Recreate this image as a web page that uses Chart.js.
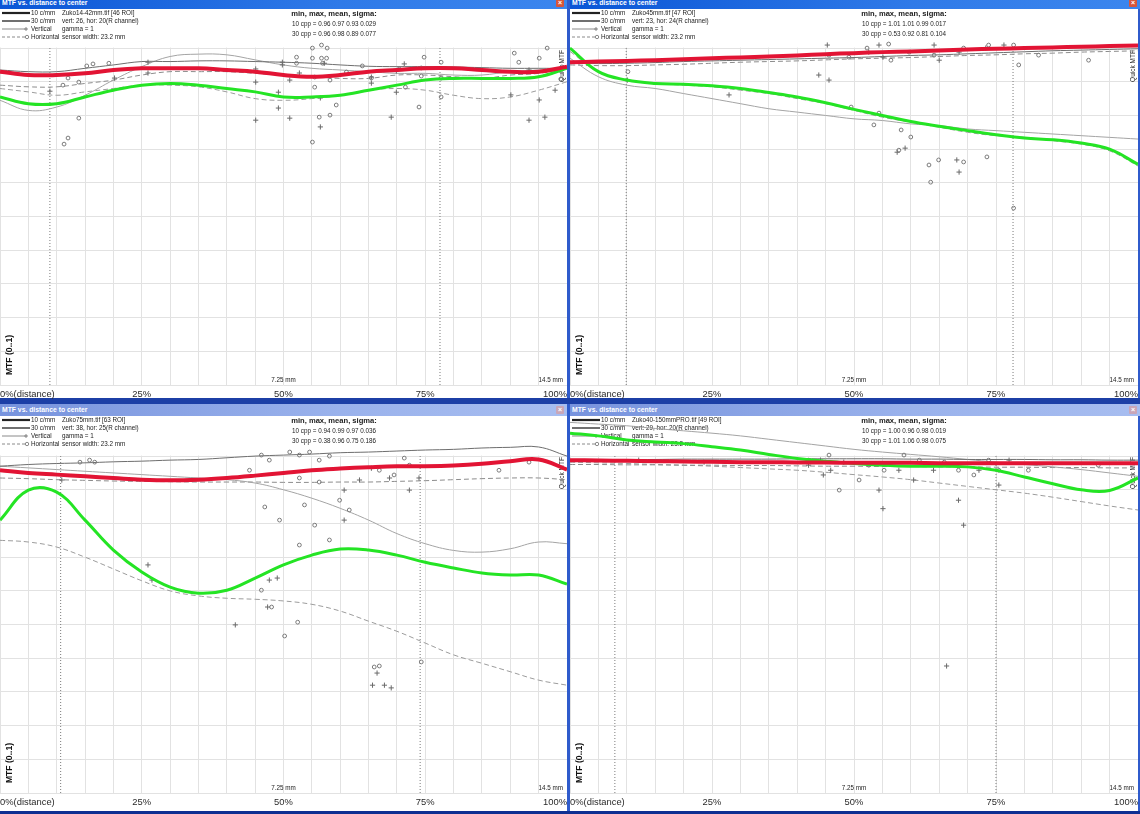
<!DOCTYPE html>
<html><head><meta charset="utf-8">
<script src="https://cdn.jsdelivr.net/npm/chart.js@4.4.1/dist/chart.umd.min.js"></script>
<style>
html,body{margin:0;padding:0}
body{width:1140px;height:814px;overflow:hidden;background:#2f5bcc;position:relative;font-family:"Liberation Sans",Arial,sans-serif}
.win{position:absolute;background:#fff;overflow:hidden}
.sep{position:absolute;background:#1c3fa6}
.tb{position:absolute;color:#fff;font:bold 6.8px "Liberation Sans",Arial,sans-serif;line-height:12px;padding-left:2px;box-sizing:border-box;white-space:nowrap}
.act{background:linear-gradient(to right,#0b56d6,#2f7ae8 60%,#3c86ee)}
.ina{background:linear-gradient(to right,#7793dd,#9ab2ec 60%,#a7bdf0)}
.cls{position:absolute;right:3px;top:2px;width:8px;height:8px;border-radius:1px;font:bold 7px Arial;line-height:8px;text-align:center;color:#fff}
.act .cls{background:#d8553a}
.ina .cls{background:#c9a6b8}
canvas{position:absolute}
</style>
</head><body>
<div class="sep" style="left:0;top:398px;width:1140px;height:6px"></div>
<div class="sep" style="left:0;top:811px;width:1140px;height:3px;background:#0f2f92"></div>
<div class="tb act" style="left:0;top:-3px;width:567px;height:12px">MTF vs. distance to center<div class="cls">×</div></div>
<div class="tb act" style="left:570px;top:-3px;width:570px;height:12px">MTF vs. distance to center<div class="cls">×</div></div>
<div class="tb ina" style="left:0;top:404px;width:567px;height:12px">MTF vs. distance to center<div class="cls">×</div></div>
<div class="tb ina" style="left:570px;top:404px;width:570px;height:12px">MTF vs. distance to center<div class="cls">×</div></div>
<div class="win" style="left:0;top:9px;width:567px;height:389px"></div>
<div class="win" style="left:570px;top:9px;width:568px;height:389px"></div>
<div class="win" style="left:0;top:416px;width:567px;height:395px"></div>
<div class="win" style="left:570px;top:416px;width:568px;height:395px"></div>
<canvas id="c1" width="567" height="390" style="left:0;top:9px"></canvas>
<canvas id="c2" width="568" height="390" style="left:570px;top:9px"></canvas>
<canvas id="c3" width="567" height="391" style="left:0;top:416px"></canvas>
<canvas id="c4" width="568" height="391" style="left:570px;top:416px"></canvas>
<script>
// ---------- shared axis data ----------
const distPct = [0,5,10,15,20,25,30,35,40,45,50,55,60,65,70,75,80,85,90,95,100];
const tickPct = [0,25,50,75,100];
const tickText = ['0%(distance)','25%','50%','75%','100%'];
const legendLabels = ['10 c/mm','30 c/mm','Vertical','Horizontal'];
const statsTitle = 'min, max, mean, sigma:';
const yLabel = 'MTF (0..1)';
const sideLabel = 'Quick MTF';
const mmLabels = ['7.25 mm','14.5 mm'];
const mmPct = [50,100];

// ---------- panel 1 : Zuko14-42mm ----------
const p1Info = ['Zuko14-42mm.tif [46 ROI]','vert: 26, hor: 20(R channel)','gamma = 1','sensor width: 23.2 mm'];
const p1Stats = ['10 cpp = 0.96 0.97 0.93 0.029','30 cpp = 0.96 0.98 0.89 0.077'];
const p1Mean10 = [.93,.92,.92,.925,.935,.94,.94,.94,.935,.93,.92,.915,.92,.93,.935,.94,.94,.935,.93,.93,.945];
const p1Mean30 = [.855,.835,.835,.855,.875,.89,.895,.89,.88,.87,.855,.855,.86,.875,.89,.905,.91,.91,.91,.915,.94];
const p1Vert10 = [.935,.93,.93,.94,.95,.96,.96,.962,.962,.96,.958,.955,.95,.946,.945,.945,.944,.942,.94,.94,.94];
const p1Vert30 = [.845,.815,.825,.86,.905,.945,.975,.982,.98,.965,.95,.94,.935,.93,.925,.925,.92,.92,.93,.935,.94];
const p1Horz10 = [.89,.885,.885,.895,.905,.92,.93,.93,.93,.925,.92,.915,.91,.91,.92,.92,.915,.91,.92,.925,.94];
const p1Horz30 = [.88,.87,.86,.87,.88,.89,.89,.885,.87,.85,.845,.85,.86,.875,.88,.875,.86,.85,.855,.875,.90];
const p1Edges = [8.8,77.6];
const p1VertPts = [[8.8,.872],[20.2,.911],[26.1,.958],[26.1,.926],[45.1,.938],[45.1,.899],[45.1,.786],[49.1,.869],[49.1,.822],[49.8,.958],[49.8,.95],[51.1,.905],[51.1,.792],[57.2,.955],[71.3,.953],[69.9,.932],[69.9,.869],[69.0,.795],[56.5,.852],[56.5,.766],[65.5,.914],[65.5,.896],[52.8,.926],[93.3,.935],[95.1,.846],[93.3,.786],[97.9,.875],[90.1,.861],[96.1,.795]];
const p1HorzPts = [[11.1,.89],[12.0,.911],[13.9,.899],[15.3,.947],[16.4,.953],[19.2,.955],[13.9,.792],[12.0,.733],[11.3,.715],[52.3,.973],[52.3,.955],[55.1,1.0],[56.7,1.009],[57.7,1.0],[55.1,.97],[56.7,.97],[57.6,.97],[56.9,.955],[55.5,.914],[55.5,.884],[56.3,.795],[58.2,.801],[55.1,.721],[59.3,.831],[58.2,.905],[63.9,.947],[61.1,.929],[65.5,.911],[70.4,.938],[71.5,.884],[73.9,.825],[74.3,.941],[74.8,.973],[74.3,.917],[77.8,.958],[77.8,.911],[77.8,.855],[98.9,.908],[99.1,.944],[90.7,.985],[95.1,.97],[96.5,1.0],[91.5,.958]];

// ---------- panel 2 : Zuko45mm ----------
const p2Info = ['Zuko45mm.tif [47 ROI]','vert: 23, hor: 24(R channel)','gamma = 1','sensor width: 23.2 mm'];
const p2Stats = ['10 cpp = 1.01 1.01 0.99 0.017','30 cpp = 0.53 0.92 0.81 0.104'];
const p2Mean10 = [.958,.96,.962,.964,.967,.97,.972,.975,.978,.982,.985,.988,.99,.993,.996,.998,1.0,1.002,1.004,1.006,1.008];
const p2Mean30 = [1.0,.93,.905,.895,.893,.888,.88,.868,.855,.838,.818,.80,.782,.768,.755,.743,.733,.728,.718,.70,.655];
const p2Vert10 = [.955,.954,.955,.957,.96,.962,.964,.966,.968,.97,.972,.975,.978,.98,.983,.986,.989,.992,.994,.996,.998];
const p2Vert30 = [.97,.915,.89,.88,.865,.85,.835,.82,.81,.80,.79,.785,.775,.77,.76,.755,.75,.745,.74,.735,.73];
const p2Horz10 = [.95,.948,.948,.95,.952,.955,.958,.96,.962,.965,.968,.97,.972,.975,.978,.98,.983,.985,.988,.99,.992];
const p2Horz30 = [.99,.93,.905,.895,.89,.885,.875,.865,.85,.835,.815,.795,.78,.765,.75,.74,.735,.725,.715,.695,.65];
const p2Edges = [9.9,78.0];
const p2VertPts = [[10.1,.905],[28.0,.861],[43.8,.92],[45.3,1.009],[45.6,.905],[52.6,.988],[54.4,1.009],[55.1,.973],[64.1,1.009],[65.0,.964],[68.5,.988],[73.2,1.0],[76.4,1.009],[59.0,.703],[57.6,.691],[68.5,.632],[68.1,.668]];
const p2HorzPts = [[45.6,.979],[49.1,.973],[52.3,1.0],[56.1,1.012],[56.5,.964],[59.7,.988],[64.1,.979],[69.3,1.0],[73.7,1.009],[78.1,1.009],[79.0,.95],[49.5,.825],[54.4,.807],[53.5,.772],[58.3,.757],[60.0,.736],[57.9,.697],[63.2,.653],[63.5,.602],[64.9,.668],[69.3,.662],[73.4,.677],[78.1,.525],[82.5,.979],[91.3,.964],[10.2,.93]];

// ---------- panel 3 : Zuko75mm ----------
const p3Info = ['Zuko75mm.tif [63 ROI]','vert: 38, hor: 25(R channel)','gamma = 1','sensor width: 23.2 mm'];
const p3Stats = ['10 cpp = 0.94 0.99 0.97 0.036','30 cpp = 0.38 0.96 0.75 0.186'];
const p3Mean10 = [.958,.95,.945,.94,.935,.93,.928,.93,.935,.942,.95,.958,.963,.967,.97,.97,.972,.977,.985,.99,.96];
const p3Mean30 = [.81,.899,.893,.81,.721,.656,.611,.593,.602,.638,.677,.706,.724,.721,.706,.685,.668,.653,.647,.647,.62];
const p3Vert10 = [.97,.975,.978,.98,.983,.985,.988,.99,.995,1.0,1.003,1.006,1.01,1.012,1.015,1.018,1.02,1.024,1.026,1.027,1.0];
const p3Vert30 = [.97,.965,.96,.955,.95,.945,.94,.935,.93,.92,.90,.875,.845,.81,.77,.74,.72,.715,.725,.745,.74];
const p3Horz10 = [.935,.933,.93,.928,.926,.925,.924,.923,.923,.923,.922,.922,.923,.923,.925,.927,.93,.933,.935,.935,.93];
const p3Horz30 = [.75,.745,.73,.70,.665,.63,.60,.585,.578,.575,.57,.56,.54,.51,.48,.445,.41,.385,.36,.335,.32];
const p3Edges = [10.7,74.1];
const p3VertPts = [[10.9,.929],[26.1,.677],[26.8,.632],[41.5,.499],[47.2,.552],[47.5,.632],[48.9,.638],[60.7,.81],[67.8,.32],[65.7,.32],[66.5,.356],[69.0,.312],[63.4,.929],[65.5,.964],[68.7,.935],[72.2,.899],[73.9,.935],[60.7,.899]];
const p3HorzPts = [[14.1,.982],[15.8,.988],[16.7,.982],[44.0,.958],[46.1,1.003],[47.5,.988],[51.1,1.012],[52.8,1.003],[54.6,1.012],[56.3,.988],[58.1,1.0],[52.8,.935],[56.3,.923],[59.9,.869],[61.6,.84],[53.7,.855],[49.3,.81],[58.1,.751],[52.8,.736],[46.7,.849],[55.5,.795],[66.9,.958],[69.5,.944],[71.3,.994],[72.2,.973],[46.1,.602],[52.5,.507],[50.2,.466],[47.9,.552],[66.0,.374],[66.9,.377],[74.3,.389],[88.0,.958],[93.3,.982]];

// ---------- panel 4 : Zuko40-150mmPRO ----------
const p4Info = ['Zuko40-150mmPRO.tif [49 ROI]','vert: 29, hor: 20(R channel)','gamma = 1','sensor width: 23.2 mm'];
const p4Stats = ['10 cpp = 1.00 0.96 0.98 0.019','30 cpp = 1.01 1.06 0.98 0.075'];
const p4Mean10 = [.988,.987,.986,.985,.984,.983,.982,.982,.981,.981,.98,.98,.98,.979,.979,.979,.979,.979,.979,.979,.979];
const p4Mean30 = [1.068,1.06,1.048,1.042,1.037,1.028,1.018,1.005,.993,.985,.978,.973,.97,.97,.968,.958,.938,.918,.90,.898,.935];
const p4Vert10 = [.99,.99,.99,.99,.991,.991,.991,.991,.992,.992,.992,.992,.991,.991,.99,.99,.99,.989,.989,.988,.988];
const p4Vert30 = [1.10,1.095,1.09,1.082,1.075,1.068,1.06,1.05,1.04,1.03,1.02,1.012,1.005,.998,.99,.982,.975,.968,.96,.95,.94];
const p4Horz10 = [.975,.975,.974,.974,.973,.973,.972,.972,.971,.97,.97,.969,.969,.968,.968,.967,.967,.966,.966,.965,.965];
const p4Horz30 = [.982,.98,.978,.975,.973,.97,.966,.962,.958,.952,.945,.938,.93,.92,.91,.9,.89,.878,.865,.852,.84];
const p4Edges = [7.9,75.0];
const p4VertPts = [[12.1,.988],[23.6,.982],[42.0,.973],[44.1,.988],[44.6,.944],[45.9,.958],[48.2,.982],[55.1,.844],[54.4,.899],[57.9,.958],[60.5,.929],[64.0,.958],[66.3,.377],[68.4,.869],[69.3,.795],[72.0,.958],[75.5,.914],[77.3,.988]];
const p4HorzPts = [[42.0,.988],[45.6,1.003],[52.6,.973],[55.3,.958],[58.8,1.003],[61.5,.988],[65.9,.982],[68.4,.958],[71.1,.944],[73.7,.988],[75.5,.958],[47.4,.899],[50.9,.929],[80.7,.958],[93.0,.973]];

// ---------- rendering ----------
const FAM = '"Liberation Sans", Arial, sans-serif';
const RED = 'rgb(226,20,52)', GREEN = 'rgb(36,228,36)';

const extras = {
  id:'extras',
  beforeDatasetsDraw(chart, args, o){
    const {ctx, chartArea:a, scales:{x,y}} = chart;
    ctx.save();
    ctx.fillStyle = '#fff';
    ctx.fillRect(a.left, a.top, a.right-a.left, y.getPixelForValue(1.0)-a.top-0.5);
    const rows = [4,12,20,28];
    ctx.strokeStyle = '#222';
    ctx.lineWidth = 2.2; ctx.beginPath(); ctx.moveTo(2,rows[0]); ctx.lineTo(30,rows[0]); ctx.stroke();
    ctx.lineWidth = 1.3; ctx.beginPath(); ctx.moveTo(2,rows[1]); ctx.lineTo(30,rows[1]); ctx.stroke();
    ctx.strokeStyle = '#8a8a8a'; ctx.lineWidth = 1;
    ctx.beginPath(); ctx.moveTo(2,rows[2]); ctx.lineTo(27,rows[2]); ctx.stroke();
    ctx.beginPath(); ctx.moveTo(26,rows[2]-2); ctx.lineTo(26,rows[2]+2); ctx.moveTo(24,rows[2]); ctx.lineTo(28,rows[2]); ctx.stroke();
    ctx.setLineDash([3,2]); ctx.beginPath(); ctx.moveTo(2,rows[3]); ctx.lineTo(25,rows[3]); ctx.stroke(); ctx.setLineDash([]);
    ctx.beginPath(); ctx.arc(27,rows[3],1.7,0,Math.PI*2); ctx.stroke();
    ctx.fillStyle = '#222'; ctx.textBaseline = 'middle'; ctx.textAlign = 'left';
    ctx.font = '6.3px '+FAM;
    legendLabels.forEach((t,i)=>ctx.fillText(t,31,rows[i]));
    o.info.forEach((t,i)=>ctx.fillText(t,62,rows[i]));
    ctx.textAlign = 'center';
    ctx.font = 'bold 7.6px '+FAM;
    ctx.fillText(statsTitle, 334, 5);
    ctx.font = '6.3px '+FAM;
    o.stats.forEach((t,i)=>ctx.fillText(t,334,15+10*i));
    ctx.font = '6.3px '+FAM; ctx.textBaseline = 'alphabetic';
    ctx.textAlign = 'center';
    ctx.fillText(mmLabels[0], x.getPixelForValue(mmPct[0]), a.bottom-3);
    ctx.textAlign = 'right';
    ctx.fillText(mmLabels[1], x.getPixelForValue(mmPct[1])-4, a.bottom-3);
    ctx.save(); ctx.translate(10, a.bottom-30); ctx.rotate(-Math.PI/2);
    ctx.font = 'bold 8.6px '+FAM; ctx.textAlign='center'; ctx.textBaseline='middle'; ctx.fillStyle='#111';
    ctx.fillText(yLabel,0,0); ctx.restore();
    ctx.save(); ctx.translate(a.right-5, 57); ctx.rotate(-Math.PI/2);
    ctx.font = '6.5px '+FAM; ctx.textAlign='center'; ctx.textBaseline='middle'; ctx.fillStyle='#222';
    ctx.fillText(sideLabel,0,0); ctx.restore();
    ctx.restore();
  }
};

function curve(arr){ return distPct.map((p,i)=>({x:p,y:arr[i]})); }
function pts(list){ return list.map(q=>({x:q[0],y:q[1]})); }

function makePanel(id, yMax, P){
  const ds = [];
  ds.push({data:curve(P.m10), borderColor:RED, borderWidth:4, pointRadius:0, tension:0.4, order:1});
  ds.push({data:curve(P.m30), borderColor:GREEN, borderWidth:3, pointRadius:0, tension:0.4, order:2});
  ds.push({data:pts(P.vp), showLine:false, pointStyle:'cross', pointRadius:2.6, borderColor:'#6a6a6a', borderWidth:1, order:3});
  ds.push({data:pts(P.hp), showLine:false, pointStyle:'circle', pointRadius:1.9, borderColor:'#7a7a7a', backgroundColor:'rgba(0,0,0,0)', borderWidth:1, order:4});
  ds.push({data:curve(P.v10), borderColor:'#6e6e6e', borderWidth:1, pointRadius:0, tension:0.4, order:5});
  ds.push({data:curve(P.v30), borderColor:'#a4a4a4', borderWidth:1, pointRadius:0, tension:0.4, order:6});
  ds.push({data:curve(P.h10), borderColor:'#8c8c8c', borderWidth:1, borderDash:[5,3], pointRadius:0, tension:0.4, order:7});
  ds.push({data:curve(P.h30), borderColor:'#9c9c9c', borderWidth:1, borderDash:[5,3], pointRadius:0, tension:0.4, order:8});
  P.edges.forEach(e=>ds.push({data:[{x:e,y:0},{x:e,y:1.0}], borderColor:'#7a7a7a', borderWidth:1, borderDash:[1,2], pointRadius:0, order:9}));
  new Chart(document.getElementById(id), {
    type:'line',
    data:{datasets:ds},
    options:{
      responsive:false, animation:false, devicePixelRatio:1,
      layout:{padding:0, autoPadding:false},
      plugins:{legend:{display:false}, tooltip:{enabled:false}, extras:{info:P.info, stats:P.stats}},
      scales:{
        x:{type:'linear', min:0, max:100,
           grid:{color:'#e2e2e2', drawTicks:false}, border:{display:false},
           ticks:{stepSize:5, autoSkip:false, maxRotation:0, align:'inner', padding:4, color:'#2a2a2a',
                  font:{size:9.4, family:FAM},
                  callback:v=>{const i=tickPct.indexOf(v); return i>=0?tickText[i]:'';}},
           afterFit:s=>{s.height=14; s.paddingLeft=0; s.paddingRight=0;}},
        y:{min:0, max:yMax,
           grid:{color:'#e2e2e2', drawTicks:false}, border:{display:false},
           ticks:{display:false, stepSize:0.1},
           afterFit:s=>{s.width=0; s.paddingTop=0; s.paddingBottom=0;}}
      }
    },
    plugins:[extras]
  });
}

makePanel('c1', 1.116, {m10:p1Mean10,m30:p1Mean30,v10:p1Vert10,v30:p1Vert30,h10:p1Horz10,h30:p1Horz30,vp:p1VertPts,hp:p1HorzPts,edges:p1Edges,info:p1Info,stats:p1Stats});
makePanel('c2', 1.116, {m10:p2Mean10,m30:p2Mean30,v10:p2Vert10,v30:p2Vert30,h10:p2Horz10,h30:p2Horz30,vp:p2VertPts,hp:p2HorzPts,edges:p2Edges,info:p2Info,stats:p2Stats});
makePanel('c3', 1.119, {m10:p3Mean10,m30:p3Mean30,v10:p3Vert10,v30:p3Vert30,h10:p3Horz10,h30:p3Horz30,vp:p3VertPts,hp:p3HorzPts,edges:p3Edges,info:p3Info,stats:p3Stats});
makePanel('c4', 1.119, {m10:p4Mean10,m30:p4Mean30,v10:p4Vert10,v30:p4Vert30,h10:p4Horz10,h30:p4Horz30,vp:p4VertPts,hp:p4HorzPts,edges:p4Edges,info:p4Info,stats:p4Stats});
</script>
</body></html>
